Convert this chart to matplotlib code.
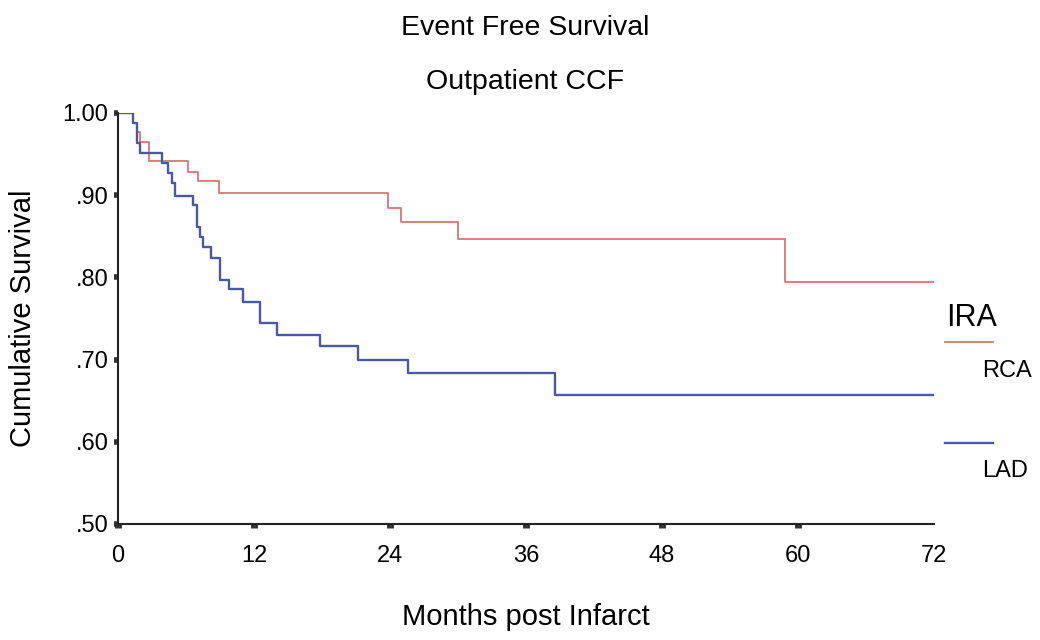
import numpy as np
from matplotlib import pyplot as plt
from matplotlib.lines import Line2D

plt.rcParams['font.family'] = ['Liberation Sans', 'DejaVu Sans']

# Kaplan-Meier style step data (months, cumulative survival)
rca_months = [0, 1.3, 1.7, 1.9, 2.7, 6.2, 7.1, 8.9, 23.8, 25.0, 30.0, 58.9, 72]
rca_surv = [1.0, 0.988, 0.977, 0.965, 0.942, 0.928, 0.917, 0.903, 0.885, 0.867, 0.847, 0.794, 0.794]

lad_months = [0, 1.3, 1.7, 1.9, 3.9, 4.4, 4.8, 5.0, 6.6, 7.0, 7.2, 7.5, 8.2, 9.0, 9.8,
              11.0, 12.5, 14.0, 17.8, 21.2, 25.6, 38.6, 72]
lad_surv = [1.0, 0.988, 0.964, 0.951, 0.939, 0.927, 0.915, 0.899, 0.888, 0.861, 0.849, 0.837,
            0.823, 0.797, 0.786, 0.770, 0.745, 0.730, 0.717, 0.700, 0.684, 0.657, 0.657]

x_ticks = [0, 12, 24, 36, 48, 60, 72]
y_ticks = [0.5, 0.6, 0.7, 0.8, 0.9, 1.0]
y_tick_labels = ['.50', '.60', '.70', '.80', '.90', '1.00']

red = '#dc7474'
blue = '#4a58a6'

fig = plt.figure(figsize=(10.4, 6.4), dpi=100)
ax = fig.add_axes([0.1135, 0.18125, 0.7845, 0.6422])

ax.step(rca_months, rca_surv, where='post', color=red, lw=1.3)
ax.step(lad_months, lad_surv, where='post', color=blue, lw=1.7)

ax.set_xlim(0, 72)
ax.set_ylim(0.5, 1.0)
ax.set_xticks(x_ticks)
ax.set_yticks(y_ticks)
ax.set_yticklabels(y_tick_labels)

for side in ['top', 'right']:
    ax.spines[side].set_visible(False)
for side in ['left', 'bottom']:
    ax.spines[side].set_linewidth(1.5)
    ax.spines[side].set_color('#222222')

ax.tick_params(axis='x', length=3, width=5, direction='out', labelsize=17, pad=12, color='#333333')
ax.tick_params(axis='y', length=3, width=4, direction='out', labelsize=17, pad=4, color='#333333')
ax.xaxis.get_major_ticks()[-1].tick1line.set_visible(False)

ax.set_xlabel('Months post Infarct', fontsize=21, labelpad=26)
ax.set_ylabel('Cumulative Survival', fontsize=21, labelpad=18)

fig.text(0.505, 0.957, 'Event Free Survival', ha='center', va='center', fontsize=20.5)
fig.text(0.505, 0.872, 'Outpatient CCF', ha='center', va='center', fontsize=20.5)

# legend drawn by hand to match the original placement
fig.text(0.910, 0.503, 'IRA', ha='left', va='center', fontsize=22)
fig.add_artist(Line2D([0.909, 0.955], [0.466, 0.466], color=red, lw=1.3))
fig.text(0.944, 0.420, 'RCA', ha='left', va='center', fontsize=17)
fig.add_artist(Line2D([0.909, 0.955], [0.308, 0.308], color=blue, lw=1.7))
fig.text(0.944, 0.264, 'LAD', ha='left', va='center', fontsize=17)

fig.savefig('out.png', dpi=100, facecolor='white')
